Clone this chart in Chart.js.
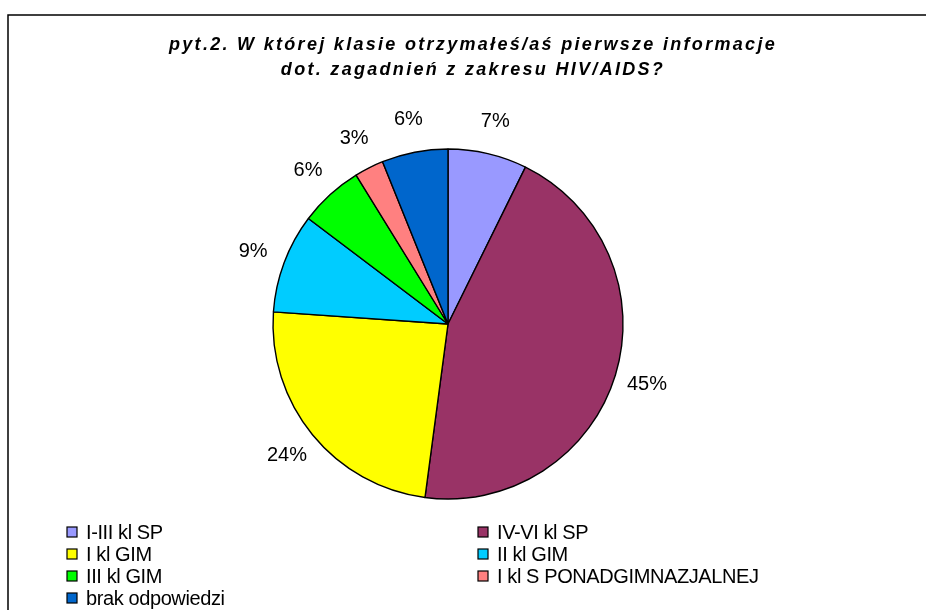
<!DOCTYPE html>
<html>
<head>
<meta charset="utf-8">
<title>pyt.2</title>
<script src="https://cdn.jsdelivr.net/npm/chart.js@4/dist/chart.umd.min.js"></script>
<style>
  html, body { margin: 0; padding: 0; background: #fff; }
  #wrap { width: 926px; height: 610px; }
</style>
</head>
<body>
<div id="wrap"><canvas id="pie" width="926" height="610"></canvas></div>
<script>
'use strict';

// ── DATA ───────────────────────────────────────────────────────────────────
const TITLE_LINES = [
  'pyt.2. W której klasie otrzymałeś/aś pierwsze informacje',
  'dot. zagadnień z zakresu HIV/AIDS?'
];
const CATEGORIES = [
  'I-III kl SP',
  'IV-VI kl SP',
  'I kl GIM',
  'II kl GIM',
  'III kl GIM',
  'I kl S PONADGIMNAZJALNEJ',
  'brak odpowiedzi'
];
const SHARES = [7.3, 44.8, 24.0, 9.2, 5.9, 2.7, 6.1];
const COLORS = ['#9999FF', '#993366', '#FFFF00', '#00CCFF', '#00FF00', '#FF8080', '#0066CC'];

const FONT = '"Liberation Sans", Arial, sans-serif';

// ── PLUGINS ────────────────────────────────────────────────────────────────
// frame + title (Excel-like, letter spaced)
const frameTitle = {
  id: 'frameTitle',
  beforeDraw(chart) {
    const ctx = chart.ctx;
    ctx.save();
    ctx.fillStyle = '#fff';
    ctx.fillRect(0, 0, chart.width, chart.height);
    ctx.strokeStyle = '#000';
    ctx.lineWidth = 1.5;
    ctx.beginPath();
    ctx.moveTo(chart.width, 15);
    ctx.lineTo(8, 15);
    ctx.lineTo(8, chart.height);
    ctx.stroke();

    ctx.fillStyle = '#000';
    ctx.font = 'italic bold 18px ' + FONT;
    ctx.textAlign = 'center';
    ctx.textBaseline = 'middle';
    if ('letterSpacing' in ctx) ctx.letterSpacing = '2.3px';
    TITLE_LINES.forEach((line, i) => ctx.fillText(line, 473, 45 + i * 25));
    ctx.restore();
  }
};

// percent labels outside the slices
const outsideLabels = {
  id: 'outsideLabels',
  afterDatasetsDraw(chart) {
    const ctx = chart.ctx;
    const meta = chart.getDatasetMeta(0);
    ctx.save();
    ctx.fillStyle = '#000';
    ctx.font = '20px ' + FONT;
    ctx.textAlign = 'center';
    ctx.textBaseline = 'middle';
    meta.data.forEach((arc, i) => {
      const p = arc.getProps(['x', 'y', 'startAngle', 'endAngle', 'outerRadius'], true);
      const mid = (p.startAngle + p.endAngle) / 2;
      const r = p.outerRadius + 33;
      ctx.fillText(Math.round(SHARES[i]) + '%', p.x + Math.cos(mid) * r, p.y + Math.sin(mid) * r);
    });
    ctx.restore();
  }
};

// two column legend below the pie
const gridLegend = {
  id: 'gridLegend',
  afterDraw(chart) {
    const ctx = chart.ctx;
    ctx.save();
    ctx.font = '20px ' + FONT;
    if ('letterSpacing' in ctx) ctx.letterSpacing = '-0.4px';
    ctx.textBaseline = 'middle';
    ctx.textAlign = 'left';
    CATEGORIES.forEach((name, i) => {
      const x = i % 2 === 0 ? 67 : 478;
      const y = 532 + Math.floor(i / 2) * 22;
      ctx.fillStyle = COLORS[i];
      ctx.fillRect(x, y - 5, 10, 10);
      ctx.strokeStyle = '#000';
      ctx.lineWidth = 1.2;
      ctx.strokeRect(x, y - 5, 10, 10);
      ctx.fillStyle = '#000';
      ctx.fillText(name, x + 19, y + 1);
    });
    ctx.restore();
  }
};

// ── CHART ──────────────────────────────────────────────────────────────────
new Chart(document.getElementById('pie').getContext('2d'), {
  type: 'pie',
  data: {
    labels: CATEGORIES,
    datasets: [{
      data: SHARES,
      backgroundColor: COLORS,
      borderColor: '#000',
      borderWidth: 1.4
    }]
  },
  options: {
    responsive: false,
    animation: false,
    radius: 175,
    layout: { padding: { left: 248, right: 278, top: 124, bottom: 86 } },
    plugins: {
      legend: { display: false },
      title: { display: false },
      tooltip: { enabled: false }
    }
  },
  plugins: [frameTitle, outsideLabels, gridLegend]
});
</script>
</body>
</html>
